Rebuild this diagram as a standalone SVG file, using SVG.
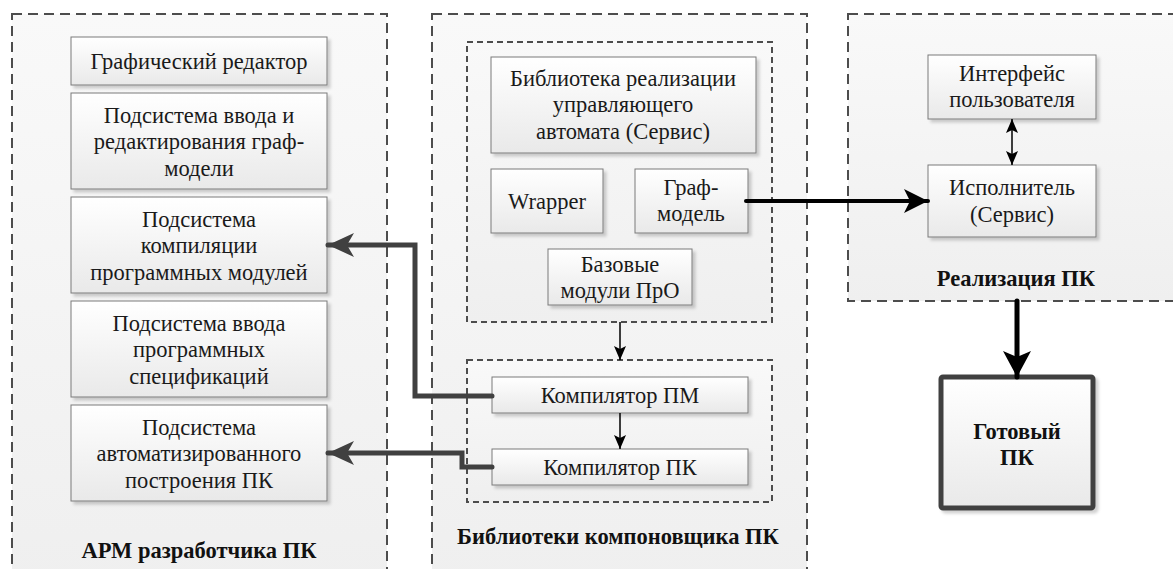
<svg xmlns="http://www.w3.org/2000/svg" width="1173" height="569" viewBox="0 0 1173 569">
<defs>
  <linearGradient id="gBox" x1="0" y1="0" x2="0" y2="1">
    <stop offset="0" stop-color="#ffffff"/>
    <stop offset="1" stop-color="#e9e9e9"/>
  </linearGradient>
  <linearGradient id="gCont" x1="0" y1="0" x2="0" y2="1">
    <stop offset="0" stop-color="#f9f9f9"/>
    <stop offset="1" stop-color="#efefef"/>
  </linearGradient>
  <filter id="sh" x="-10%" y="-10%" width="130%" height="130%">
    <feDropShadow dx="3" dy="3" stdDeviation="1.5" flood-color="#000" flood-opacity="0.18"/>
  </filter>
  <marker id="mGray" viewBox="0 0 26 24" refX="26" refY="12" markerWidth="26" markerHeight="24" markerUnits="userSpaceOnUse" orient="auto">
    <path d="M0,0 L26,12 L0,24 L7,12 Z" fill="#404040"/>
  </marker>
  <marker id="mBlk" viewBox="0 0 24 24" refX="24" refY="12" markerWidth="24" markerHeight="24" markerUnits="userSpaceOnUse" orient="auto">
    <path d="M0,0 L24,12 L0,24 L6,12 Z" fill="#000"/>
  </marker>
  <marker id="mBig" viewBox="0 0 26 28" refX="26" refY="14" markerWidth="26" markerHeight="28" markerUnits="userSpaceOnUse" orient="auto">
    <path d="M0,0 L26,14 L0,28 L6,14 Z" fill="#000"/>
  </marker>
  <marker id="mSmall" viewBox="0 0 14 12" refX="14" refY="6" markerWidth="14" markerHeight="12" markerUnits="userSpaceOnUse" orient="auto">
    <path d="M0,0 L14,6 L0,12 L3,6 Z" fill="#000"/>
  </marker>
  <marker id="mSmallStart" viewBox="0 0 14 12" refX="0" refY="6" markerWidth="14" markerHeight="12" markerUnits="userSpaceOnUse" orient="auto">
    <path d="M14,0 L0,6 L14,12 L11,6 Z" fill="#000"/>
  </marker>
</defs>

<rect width="1173" height="569" fill="#ffffff"/>

<!-- containers -->
<g fill="url(#gCont)" stroke="#4d4d4d" stroke-width="2" stroke-dasharray="10 6">
  <rect id="arm-frame" x="12" y="14" width="375" height="580"/>
  <rect id="lib-frame" x="432" y="14" width="375" height="580"/>
  <rect id="real-frame" x="848" y="14" width="340" height="287"/>
</g>
<g fill="url(#gCont)" stroke="#4d4d4d" stroke-width="2" stroke-dasharray="6 4">
  <rect id="libInner1" x="467" y="42" width="305" height="280"/>
  <rect id="libInner2" x="467" y="360" width="305" height="142"/>
</g>

<g font-family="Liberation Serif" font-size="22.5" font-weight="bold" fill="#111" text-anchor="middle">
  <text id="arm" x="199" y="558">АРМ разработчика ПК</text>
  <text id="lib" x="618" y="544">Библиотеки компоновщика ПК</text>
  <text id="real" x="1016" y="286">Реализация ПК</text>
</g>

<g font-family="Liberation Serif" font-size="22.5" fill="#1a1a1a" text-anchor="middle">
<!-- left nodes -->
<g id="n-graphic">
  <rect x="71" y="37" width="256" height="48" fill="url(#gBox)" stroke="#7a7a7a" filter="url(#sh)"/>
  <text x="199" y="69">Графический редактор</text>
</g>
<g id="n-input-graph">
  <rect x="71" y="93" width="256" height="96" fill="url(#gBox)" stroke="#7a7a7a" filter="url(#sh)"/>
  <text x="199" y="123">Подсистема ввода и</text>
  <text x="199" y="149">редактирования граф-</text>
  <text x="199" y="176">модели</text>
</g>
<g id="n-compile">
  <rect x="71" y="197" width="256" height="96" fill="url(#gBox)" stroke="#7a7a7a" filter="url(#sh)"/>
  <text x="199" y="227">Подсистема</text>
  <text x="199" y="253">компиляции</text>
  <text x="199" y="280">программных модулей</text>
</g>
<g id="n-spec">
  <rect x="71" y="301" width="256" height="96" fill="url(#gBox)" stroke="#7a7a7a" filter="url(#sh)"/>
  <text x="199" y="331">Подсистема ввода</text>
  <text x="199" y="357">программных</text>
  <text x="199" y="384">спецификаций</text>
</g>
<g id="n-auto">
  <rect x="71" y="405" width="256" height="96" fill="url(#gBox)" stroke="#7a7a7a" filter="url(#sh)"/>
  <text x="199" y="435">Подсистема</text>
  <text x="199" y="461">автоматизированного</text>
  <text x="199" y="488">построения ПК</text>
</g>

<!-- middle nodes -->
<g id="n-libimpl">
  <rect x="491" y="57" width="265" height="96" fill="url(#gBox)" stroke="#7a7a7a" filter="url(#sh)"/>
  <text x="623" y="86">Библиотека реализации</text>
  <text x="623" y="112">управляющего</text>
  <text x="623" y="139">автомата (Сервис)</text>
</g>
<g id="n-wrapper">
  <rect x="491" y="169" width="112" height="64" fill="url(#gBox)" stroke="#7a7a7a" filter="url(#sh)"/>
  <text x="547" y="209">Wrapper</text>
</g>
<g id="n-graphmodel">
  <rect x="635" y="169" width="113" height="64" fill="url(#gBox)" stroke="#7a7a7a" filter="url(#sh)"/>
  <text x="691" y="195">Граф-</text>
  <text x="691" y="221">модель</text>
</g>
<g id="n-base">
  <rect x="548" y="249" width="144" height="56" fill="url(#gBox)" stroke="#7a7a7a" filter="url(#sh)"/>
  <text x="620" y="272">Базовые</text>
  <text x="620" y="298">модули ПрО</text>
</g>
<g id="n-compPM">
  <rect x="492" y="377" width="256" height="36" fill="url(#gBox)" stroke="#7a7a7a" filter="url(#sh)"/>
  <text x="620" y="403">Компилятор ПМ</text>
</g>
<g id="n-compPK">
  <rect x="492" y="449" width="256" height="36" fill="url(#gBox)" stroke="#7a7a7a" filter="url(#sh)"/>
  <text x="620" y="475">Компилятор ПК</text>
</g>

<!-- right nodes -->
<g id="n-ui">
  <rect x="928" y="55" width="168" height="64" fill="url(#gBox)" stroke="#7a7a7a" filter="url(#sh)"/>
  <text x="1012" y="81">Интерфейс</text>
  <text x="1012" y="107">пользователя</text>
</g>
<g id="n-exec">
  <rect x="928" y="165" width="168" height="72" fill="url(#gBox)" stroke="#7a7a7a" filter="url(#sh)"/>
  <text x="1012" y="195">Исполнитель</text>
  <text x="1012" y="222">(Сервис)</text>
</g>
<g id="n-ready">
  <rect x="941" y="377" width="152" height="131" rx="2" fill="url(#gBox)" stroke="#404040" stroke-width="5" filter="url(#sh)"/>
  <text x="1017" y="439" font-size="22.5" font-weight="bold" fill="#111">Готовый</text>
  <text x="1017" y="465" font-size="22.5" font-weight="bold" fill="#111">ПК</text>
</g>
</g>

<!-- connectors -->
<g id="connectors" fill="none">
  <g stroke="#404040" stroke-width="5" stroke-linecap="round">
    <path d="M492,396 L415,396 L415,245 L328,245" marker-end="url(#mGray)"/>
    <path d="M492,467 L462,467 L462,453 L328,453" marker-end="url(#mGray)"/>
  </g>
  <g stroke="#000" stroke-linecap="round">
    <path d="M746,201 L928,201" stroke-width="4" marker-end="url(#mBlk)"/>
    <path d="M1017,301 L1017,377" stroke-width="5" marker-end="url(#mBig)"/>
  </g>
  <g stroke="#000" stroke-width="1.5">
    <path d="M620,322 L620,360" marker-end="url(#mSmall)"/>
    <path d="M620,413 L620,449" marker-end="url(#mSmall)"/>
    <path d="M1012,119 L1012,165" marker-start="url(#mSmallStart)" marker-end="url(#mSmall)"/>
  </g>
</g>
</svg>
